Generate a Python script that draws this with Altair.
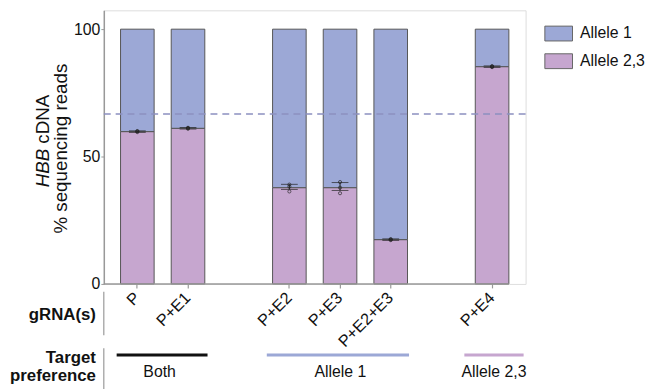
import altair as alt
import pandas as pd

# ---- data ----
categories = ["P", "P+E1", "P+E2", "P+E3", "P+E2+E3", "P+E4"]
x_domain = ["P", "P+E1", "gap1", "P+E2", "P+E3", "P+E2+E3", "gap2", "P+E4"]
allele23 = [59.8, 61.1, 37.8, 37.8, 17.4, 85.3]
total = [100, 100, 100, 100, 100, 100]
err_lo = [59.5, 60.8, 37.1, 36.7, 17.1, 85.0]
err_hi = [60.1, 61.4, 39.1, 39.8, 17.7, 85.6]
rep1 = [59.6, 60.9, 39.0, 40.0, 17.2, 85.1]
rep2 = [59.9, 61.2, 38.2, 37.8, 17.4, 85.3]
rep3 = [60.0, 61.3, 36.3, 35.6, 17.6, 85.5]
expected = 66.7
series = ["Allele 1", "Allele 2,3"]
colors = ["#9ca8d6", "#c6a6cf"]

FONT = "Liberation Sans"

bars = pd.DataFrame(
    [{"cat": c, "allele": "Allele 2,3", "y0": 0, "y1": a} for c, a in zip(categories, allele23)]
    + [{"cat": c, "allele": "Allele 1", "y0": a, "y1": t} for c, a, t in zip(categories, allele23, total)]
)
errs = pd.DataFrame({"cat": categories, "lo": err_lo, "hi": err_hi})
pts = pd.DataFrame(
    [{"cat": c, "v": v} for r in (rep1, rep2, rep3) for c, v in zip(categories, r)]
)
one = pd.DataFrame({"a": [0]})

xscale = alt.Scale(domain=x_domain, paddingInner=0.337, paddingOuter=0.33)
xenc = alt.X(
    "cat:N",
    scale=xscale,
    axis=alt.Axis(
        values=categories, title=None, labelAngle=-45, labelAlign="right",
        labelBaseline="middle", labelFontSize=16.5, labelFont=FONT, labelColor="#111",
        tickSize=4, tickColor="#999", tickWidth=1.2, domain=False, labelPadding=7,
    ),
)
yscale = alt.Scale(domain=[0, 107.4], nice=False)

bar_layer = alt.Chart(bars).mark_bar(stroke="#555", strokeWidth=1, opacity=1).encode(
    x=xenc,
    y=alt.Y(
        "y0:Q", scale=yscale,
        axis=alt.Axis(
            values=[0, 50, 100], title=None, grid=False, labelFontSize=16,
            labelFont=FONT, labelColor="#111", domainColor="#999", domainWidth=1.5,
            tickColor="#999", tickSize=3, labelPadding=1,
        ),
    ),
    y2="y1:Q",
    color=alt.Color(
        "allele:N",
        scale=alt.Scale(domain=series, range=colors),
        legend=alt.Legend(
            orient="none", legendX=446, legendY=9, title=None,
            symbolType="M-1,-0.536L1,-0.536L1,0.536L-1,0.536Z", symbolSize=784,
            symbolStrokeColor="#666", symbolStrokeWidth=1, symbolOpacity=1,
            labelFontSize=16, labelFont=FONT, labelColor="#111", labelOffset=7,
            rowPadding=3, padding=0,
        ),
    ),
)

dash = alt.Chart(one).mark_rule(color="#8c90c0", strokeWidth=1.5, strokeDash=[7, 5]).encode(
    y=alt.datum(expected)
)

err_rule = alt.Chart(errs).mark_rule(color="#222", strokeWidth=1).encode(
    x="cat:N", y="lo:Q", y2="hi:Q"
)
err_lo_t = alt.Chart(errs).mark_tick(color="#222", size=17, thickness=1).encode(x="cat:N", y="lo:Q")
err_hi_t = alt.Chart(errs).mark_tick(color="#222", size=17, thickness=1).encode(x="cat:N", y="hi:Q")
points = alt.Chart(pts).mark_point(shape="circle", size=10, filled=False, color="#222", strokeWidth=1).encode(
    x="cat:N", y="v:Q"
)


def rule(x, x2, y, y2, color, width):
    return alt.Chart(one).mark_rule(color=color, strokeWidth=width).encode(
        x=alt.value(x), x2=alt.value(x2), y=alt.value(y), y2=alt.value(y2)
    )


def label(text, x, y, size=16, weight="normal", align="center", angle=0, style="normal"):
    return alt.Chart(one).mark_text(
        text=text, fontSize=size, font=FONT, fontWeight=weight, align=align,
        baseline="middle", angle=angle, color="#111", fontStyle=style,
    ).encode(x=alt.value(x), y=alt.value(y))


decor = [
    rule(0, 410, 277, 277, "#999", 1.5),          # x axis line
    rule(0, 0, 285, 329, "#999", 1.2),            # gRNA separator
    rule(0, 0, 342, 390, "#999", 1.2),            # target separator
    rule(13, 105, 349, 349, "#111", 3),
    rule(165, 309, 349, 349, colors[0], 3),
    rule(365, 425, 349, 349, colors[1], 3),
    label("gRNA(s)", -8, 309, 17, "bold", "right"),
    label("Target", -8, 352, 17, "bold", "right"),
    label("preference", -8, 370, 17, "bold", "right"),
    label("Both", 56.5, 366),
    label("Allele 1", 239.5, 366),
    label("Allele 2,3", 395, 366),
    label("HBB", -61, 140, 19, "normal", "right", 270, "italic"),
    label("cDNA", -61, 135, 19, "normal", "left", 270),
    label("% sequencing reads", -43, 140, 19, "normal", "center", 270),
]

chart = alt.layer(bar_layer, dash, err_rule, err_lo_t, err_hi_t, points, *decor).properties(
    width=427,
    height=277,
    padding={"left": 97, "top": 0, "right": 130, "bottom": 104},
    autosize=alt.AutoSizeParams(type="none"),
).configure_view(stroke=None).configure(background="white")

chart.save("out.html", embed_options={"renderer": "svg", "actions": False})
